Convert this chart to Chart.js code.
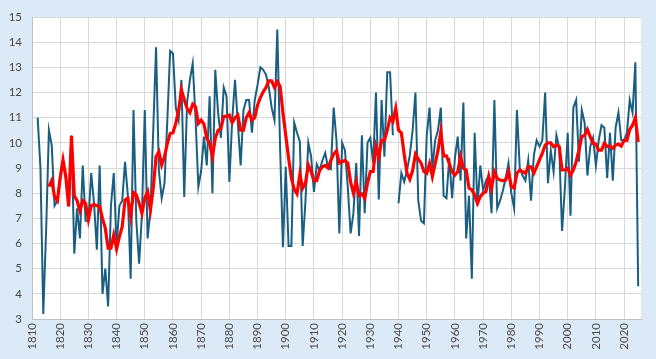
<!DOCTYPE html>
<html>
<head>
<meta charset="utf-8">
<script src="https://cdn.jsdelivr.net/npm/chart.js@4"></script>
<style>
  body { margin: 0; background: #dce9f6; }
  canvas { display: block; }
</style>
</head>
<body>
<canvas id="tempChart" width="656" height="359"></canvas>
<script>
// Yearly values, first year 1812 (1939 missing)
const firstYear = 1812;
const yearly = [
  11.0, 9.0, 3.2, 6.5, 10.5, 9.9, 7.5, 7.7,
  8.7, 9.3, 8.6, 7.5, 10.3, 5.6, 7.4, 6.2, 9.1, 6.9,
  6.9, 8.8, 7.6, 5.75, 9.1, 4.0, 5.0, 3.5, 7.5, 8.8,
  5.9, 7.5, 7.7, 9.25, 7.9, 4.6, 11.3, 6.9, 5.2, 7.2,
  11.3, 6.2, 7.3, 10.5, 13.8, 8.9, 7.8, 8.4, 10.9, 13.65,
  13.55, 11.4, 10.9, 12.5, 7.85, 11.6, 12.5, 13.15, 11.0, 8.25,
  8.9, 10.25, 9.1, 11.85, 8.0, 12.9, 11.2, 10.2, 12.2, 11.85,
  8.45, 10.9, 12.5, 10.8, 9.1, 11.3, 11.7, 11.7, 10.4, 11.7,
  12.3, 13.0, 12.9, 12.7, 12.2, 11.4, 10.9, 14.5, 9.8, 5.85,
  9.05, 5.9, 5.9, 10.8, 10.4, 10.05, 5.9, 7.7, 10.0, 9.45,
  8.05, 9.15, 8.9, 9.3, 9.6, 9.0, 8.95, 11.4, 10.1, 6.4,
  10.0, 9.7, 8.25, 6.4, 7.2, 9.2, 6.3, 10.3, 7.2, 10.0,
  10.2, 9.2, 12.0, 7.75, 11.7, 9.45, 12.8, 12.8, 10.3, null,
  7.6, 8.8, 8.45, 8.9, 9.5, 10.5, 12.0, 7.7, 6.9, 6.8,
  10.3, 11.4, 9.0, 10.1, 10.5, 11.4, 7.9, 7.8, 9.4, 7.8,
  9.4, 10.25, 8.5, 11.6, 6.2, 7.9, 4.6, 10.4, 7.5, 9.1,
  8.1, 8.5, 8.7, 7.2, 11.7, 7.4, 7.7, 8.1, 8.6, 9.2,
  8.0, 7.4, 11.3, 9.0, 8.7, 8.5, 9.3, 7.7, 9.5, 10.1,
  9.85, 10.1, 12.0, 8.4, 9.7, 8.85, 10.3, 9.8, 6.5, 8.2,
  10.4, 7.1, 11.4, 11.7, 9.25, 11.3, 10.8, 8.7, 9.85, 10.2,
  9.1, 10.1, 10.7, 10.6, 8.6, 10.4, 8.5, 10.6, 11.2, 10.1,
  10.1, 10.4, 11.7, 11.2, 13.2, 4.3
];

// Running mean, first year 1816
const firstAvgYear = 1816;
const runningMean = [
  8.26, 8.5, 7.86, 7.7,
  8.6, 9.32, 8.65, 7.47, 10.27, 7.9, 7.7, 7.3, 7.7, 7.6,
  6.95, 7.5, 7.55, 7.5, 7.47, 7.0, 6.6, 5.82, 5.82, 6.34,
  5.78, 6.28, 6.67, 7.73, 7.8, 7.07, 8.02, 7.93, 7.6, 7.2,
  7.8, 8.06, 7.33, 8.2, 9.45, 9.65, 9.12, 9.45, 9.98, 10.37,
  10.4, 10.77, 11.3, 12.1, 11.72, 11.37, 11.2, 11.54, 11.43, 10.77,
  10.9, 10.74, 10.18, 9.98, 9.45, 10.18, 10.5, 10.57, 11.04, 11.06,
  11.1, 10.8, 11.0, 11.1, 10.5, 10.5, 11.0, 11.2, 10.9, 11.0,
  11.5, 11.8, 12.03, 12.2, 12.46, 12.46, 12.2, 12.43, 12.25, 11.2,
  10.3, 9.4, 8.6, 8.15, 7.97, 8.75, 8.2, 8.4, 9.12, 8.86,
  8.5, 8.5, 8.9, 9.05, 9.1, 9.0, 9.3, 9.55, 9.68, 9.2,
  9.25, 9.3, 9.2, 8.45, 8.0, 8.45, 7.9, 7.97, 7.8, 8.4,
  8.86, 8.86, 9.85, 9.45, 10.1, 10.1, 10.5, 11.0, 10.85, 11.37,
  10.5, 10.4, 9.55, 8.8, 8.55, 8.9, 9.55, 9.35, 9.2, 8.86,
  8.79, 9.18, 8.66, 9.18, 9.7, 10.44, 9.48, 9.48, 9.18, 8.85,
  8.72, 8.85, 9.45, 8.99, 8.92, 8.2, 8.13, 7.93, 7.6, 7.86,
  8.0, 8.06, 8.66, 8.2, 8.85, 8.59, 8.52, 8.5, 8.52, 8.85,
  8.26, 8.2, 8.79, 8.92, 8.85, 8.79, 9.05, 9.05, 8.79, 9.05,
  9.32, 9.58, 9.91, 10.0, 10.0, 9.85, 9.91, 9.85, 8.92, 8.92,
  8.99, 8.72, 8.92, 9.25, 9.71, 10.24, 10.3, 10.53, 10.24, 9.98,
  9.95, 9.71, 9.71, 9.98, 9.85, 9.87, 9.78, 9.91, 9.95, 9.87,
  10.1, 10.1, 10.53, 10.7, 11.0, 10.04
];

const xTicks = [1810, 1820, 1830, 1840, 1850, 1860, 1870, 1880, 1890, 1900, 1910,
  1920, 1930, 1940, 1950, 1960, 1970, 1980, 1990, 2000, 2010, 2020];
const yTicks = [3, 4, 5, 6, 7, 8, 9, 10, 11, 12, 13, 14, 15];

const tickFont = { family: 'Lato, "Liberation Sans", sans-serif', size: 11.5 };
const tickColor = '#4a4a4a';

// Paint the light blue frame and white plot area
const backgroundPlugin = {
  id: 'background',
  beforeDraw(chart) {
    const { ctx, chartArea: a } = chart;
    ctx.save();
    ctx.fillStyle = '#dce9f6';
    ctx.fillRect(0, 0, chart.width, chart.height);
    ctx.fillStyle = '#ffffff';
    ctx.fillRect(a.left, a.top, a.right - a.left, a.bottom - a.top);
    ctx.restore();
  }
};

const ctx = document.getElementById('tempChart');
new Chart(ctx, {
  type: 'line',
  data: {
    datasets: [
      {
        label: 'Mean',
        data: runningMean.map((v, i) => ({ x: firstAvgYear + i, y: v })),
        borderColor: '#ff0000',
        borderWidth: 3.2,
        pointRadius: 0,
        tension: 0,
        order: 0
      },
      {
        label: 'Year',
        data: yearly.map((v, i) => ({ x: firstYear + i, y: v })),
        borderColor: '#1a5f82',
        borderWidth: 2,
        pointRadius: 0,
        tension: 0,
        spanGaps: false,
        order: 1
      }
    ]
  },
  options: {
    responsive: false,
    animation: false,
    plugins: {
      legend: { display: false },
      tooltip: { enabled: false }
    },
    layout: {
      padding: { top: 17, right: 15, left: 0, bottom: 0 }
    },
    scales: {
      x: {
        type: 'linear',
        min: 1810,
        max: 2026,
        afterBuildTicks: axis => { axis.ticks = xTicks.map(v => ({ value: v })); },
        afterFit: axis => { axis.height = 40; },
        ticks: {
          autoSkip: false,
          minRotation: 90,
          maxRotation: 90,
          padding: 4,
          font: tickFont,
          color: tickColor,
          callback: v => String(v)
        },
        grid: { color: '#d9d9d9', drawTicks: false },
        border: { color: '#bfbfbf' }
      },
      y: {
        min: 3,
        max: 15,
        afterBuildTicks: axis => { axis.ticks = yTicks.map(v => ({ value: v })); },
        afterFit: axis => { axis.width = 32; },
        ticks: {
          padding: 10,
          font: tickFont,
          color: tickColor
        },
        grid: { color: '#d9d9d9', drawTicks: false },
        border: { color: '#bfbfbf' }
      }
    }
  },
  plugins: [backgroundPlugin]
});
</script>
</body>
</html>
